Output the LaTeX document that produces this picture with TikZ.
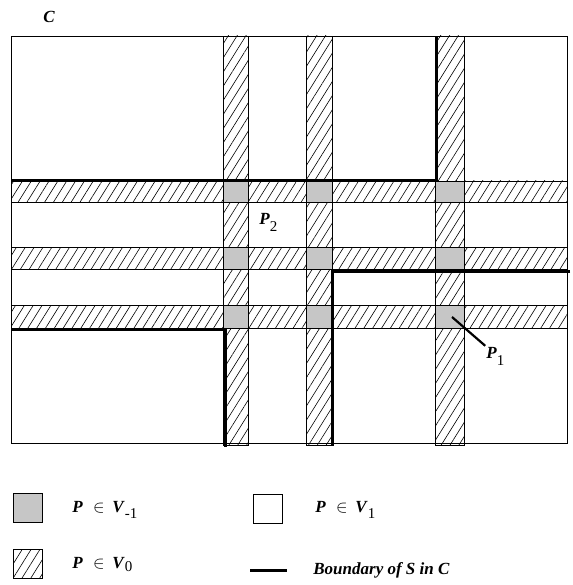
\documentclass[tikz,border=0pt]{standalone}
\usepackage{fontspec}
\setmainfont{Liberation Serif}
\usetikzlibrary{patterns.meta}

\newcommand{\bi}[1]{\textbf{\textit{#1}}}
\newcommand{\lo}[2][0.4em]{\raisebox{-#1}{\fontsize{15}{17}\selectfont #2}}

\begin{document}
\begin{tikzpicture}[x=1pt,y=-1pt,line width=0.8pt,
 strip/.style={draw,pattern={Lines[angle=58,distance=7.5pt,line width=0.6pt]}},
 core/.style={draw,fill=gray!45},
 bnd/.style={line width=3pt},
 lbl/.style={font=\fontsize{17}{19}\selectfont,inner sep=0pt},
 key/.style={draw,minimum size=29pt,inner sep=0pt}]
\useasboundingbox (0,0) rectangle (572,585);
% cell C
\draw (11,36) rectangle (567,443);
% strips of V0
\foreach \ya/\yb in {181/202,247/269,305/328}
  \draw[strip] (11,\ya) rectangle (567,\yb);
\foreach \xa/\xb in {223/248,306/332,435/464}
  \draw[strip] (\xa,36) rectangle (\xb,445);
% crossings, V-1
\foreach \xa/\xb in {223/248,306/332,435/464}
  \foreach \ya/\yb in {181/202,247/269,305/328}
    \draw[core] (\xa,\ya) rectangle (\xb,\yb);
% boundary of S
\draw[bnd] (11,181) -- (436,181) -- (436,36);
\draw[bnd] (570,271) -- (332,271) -- (332,446);
\draw[bnd] (11,329) -- (225,329) -- (225,447);
% labels
\node[lbl] (c) at (49,17) {\bi{C}};
\node[lbl,anchor=base west] (p2) at (259,224) {\bi{P}\lo[0.45em]{2}};
\node[lbl,anchor=base west] (p1) at (486,358) {\bi{P}\lo[0.45em]{1}};
\coordinate (p1tip) at (452,317);
\draw[line width=2.2pt,shorten >=1pt] (p1tip) -- (p1.north west);
% legend
\node[key,fill=gray!45] (kgray) at (28,508) {};
\node[key] (kwhite) at (268,509) {};
\node[key,pattern={Lines[angle=58,distance=7.5pt,line width=0.6pt]}] (khatch) at (28,564) {};
\coordinate (kb1) at (250,570);
\coordinate (kb2) at (287,570);
\draw[bnd] (kb1) -- (kb2);
\node[lbl,anchor=base west] (tgray) at (72,512) {\bi{P}\hspace{0.6em}$\in$\hspace{0.45em}\bi{V}\lo{-1}};
\node[lbl,anchor=base west] (twhite) at (315,512) {\bi{P}\hspace{0.6em}$\in$\hspace{0.45em}\bi{V}\lo{1}};
\node[lbl,anchor=base west] (thatch) at (72,568) {\bi{P}\hspace{0.6em}$\in$\hspace{0.45em}\bi{V}\lo[0.2em]{0}};
\node[lbl,anchor=west] (tbnd) at (313,570) {\bi{Boundary of S in C}};
\end{tikzpicture}
\end{document}
